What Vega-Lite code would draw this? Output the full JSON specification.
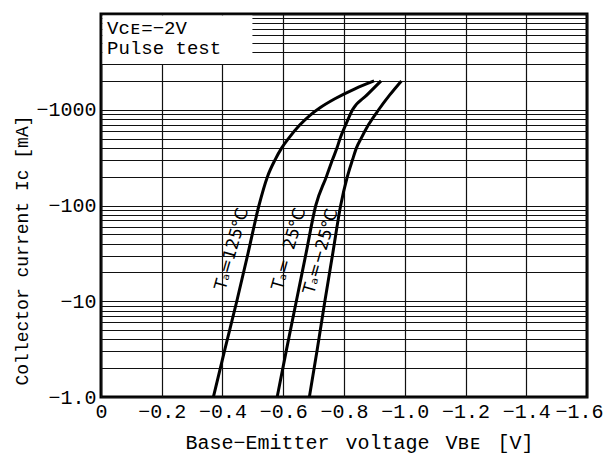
{
  "$schema": "https://vega.github.io/schema/vega-lite/v6.json",
  "width": 486,
  "height": 383,
  "autosize": {"type": "none"},
  "padding": {"left": 101, "top": 14, "right": 17, "bottom": 59},
  "background": "white",
  "config": {
    "view": {"stroke": "black", "strokeWidth": 3},
    "font": "Liberation Mono",
    "axis": {
      "domain": false,
      "ticks": false,
      "grid": true,
      "gridColor": "#111",
      "gridWidth": 1.2,
      "labelFont": "Liberation Mono",
      "labelFontSize": 20,
      "labelColor": "black",
      "titleFont": "Liberation Mono",
      "titleFontSize": 20,
      "titleFontWeight": "normal",
      "titleColor": "black"
    }
  },
  "datasets": {
    "curves": [
      {"series": "125", "V": -0.370, "Ic_abs_mA": 1},
      {"series": "125", "V": -0.408, "Ic_abs_mA": 3.16},
      {"series": "125", "V": -0.447, "Ic_abs_mA": 10},
      {"series": "125", "V": -0.484, "Ic_abs_mA": 31.6},
      {"series": "125", "V": -0.520, "Ic_abs_mA": 100},
      {"series": "125", "V": -0.548, "Ic_abs_mA": 200},
      {"series": "125", "V": -0.573, "Ic_abs_mA": 300},
      {"series": "125", "V": -0.595, "Ic_abs_mA": 400},
      {"series": "125", "V": -0.617, "Ic_abs_mA": 500},
      {"series": "125", "V": -0.655, "Ic_abs_mA": 696},
      {"series": "125", "V": -0.688, "Ic_abs_mA": 875},
      {"series": "125", "V": -0.721, "Ic_abs_mA": 1048},
      {"series": "125", "V": -0.770, "Ic_abs_mA": 1301},
      {"series": "125", "V": -0.836, "Ic_abs_mA": 1655},
      {"series": "125", "V": -0.899, "Ic_abs_mA": 2000},
      {"series": "25", "V": -0.580, "Ic_abs_mA": 1},
      {"series": "25", "V": -0.611, "Ic_abs_mA": 3.16},
      {"series": "25", "V": -0.643, "Ic_abs_mA": 10},
      {"series": "25", "V": -0.675, "Ic_abs_mA": 31.6},
      {"series": "25", "V": -0.707, "Ic_abs_mA": 100},
      {"series": "25", "V": -0.742, "Ic_abs_mA": 200},
      {"series": "25", "V": -0.762, "Ic_abs_mA": 300},
      {"series": "25", "V": -0.777, "Ic_abs_mA": 400},
      {"series": "25", "V": -0.787, "Ic_abs_mA": 500},
      {"series": "25", "V": -0.806, "Ic_abs_mA": 700},
      {"series": "25", "V": -0.828, "Ic_abs_mA": 1000},
      {"series": "25", "V": -0.875, "Ic_abs_mA": 1420},
      {"series": "25", "V": -0.922, "Ic_abs_mA": 2000},
      {"series": "-25", "V": -0.686, "Ic_abs_mA": 1},
      {"series": "-25", "V": -0.712, "Ic_abs_mA": 3.16},
      {"series": "-25", "V": -0.737, "Ic_abs_mA": 10},
      {"series": "-25", "V": -0.763, "Ic_abs_mA": 31.6},
      {"series": "-25", "V": -0.789, "Ic_abs_mA": 100},
      {"series": "-25", "V": -0.811, "Ic_abs_mA": 200},
      {"series": "-25", "V": -0.828, "Ic_abs_mA": 300},
      {"series": "-25", "V": -0.841, "Ic_abs_mA": 400},
      {"series": "-25", "V": -0.856, "Ic_abs_mA": 500},
      {"series": "-25", "V": -0.881, "Ic_abs_mA": 700},
      {"series": "-25", "V": -0.914, "Ic_abs_mA": 1000},
      {"series": "-25", "V": -0.950, "Ic_abs_mA": 1420},
      {"series": "-25", "V": -0.989, "Ic_abs_mA": 2000}
    ],
    "curveLabels": [
      {"label": "T\u2090=125\u00b0C", "V": -0.431, "Ic_abs_mA": 35},
      {"label": "T\u2090=\u200725\u00b0C", "V": -0.619, "Ic_abs_mA": 35},
      {"label": "T\u2090=\u221225\u00b0C", "V": -0.724, "Ic_abs_mA": 33}
    ],
    "noteBox": [
      {"V1": -0.005, "V2": -0.4985, "I1": 3010, "I2": 9650}
    ],
    "note": [
      {"text": "V\u1d04\u1d07=\u22122V", "V": -0.02, "Ic_abs_mA": 6200},
      {"text": "Pulse\u00a0test", "V": -0.02, "Ic_abs_mA": 3850}
    ]
  },
  "layer": [
    {
      "data": {"name": "noteBox"},
      "mark": {"type": "rect", "fill": "white", "stroke": null},
      "encoding": {
        "x": {"field": "V1", "type": "quantitative", "scale": {"domain": [0, -1.6], "nice": false, "zero": false},
          "axis": {
            "values": [0, -0.1, -0.2, -0.3, -0.4, -0.5, -0.6, -0.7, -0.8, -0.9, -1.0, -1.1, -1.2, -1.3, -1.4, -1.5, -1.6],
            "labelExpr": "round(datum.value*10) % 2 == 0 ? (datum.value == 0 ? '0' : format(datum.value, '.1f')) : ''",
            "labelPadding": 4,
            "labelFlush": false,
            "labelOffset": {"condition": {"test": "datum.value < -1.55", "value": -8}, "value": 0},
            "title": "Base\u2212Emitter\u00a0\u2009voltage\u00a0\u2009V\u0299\u1d07\u00a0\u2009[V]",
            "titleX": 258,
            "titlePadding": 11
          }},
        "x2": {"field": "V2"},
        "y": {"field": "I1", "type": "quantitative", "scale": {"type": "log", "domain": [1, 10000], "nice": false},
          "axis": {
            "values": [1, 2, 3, 4, 5, 6, 7, 8, 9, 10, 20, 30, 40, 50, 60, 70, 80, 90, 100, 200, 300, 400, 500, 600, 700, 800, 900, 1000, 2000, 3000, 4000, 5000, 6000, 7000, 8000, 9000, 10000],
            "labelExpr": "datum.value == 1 ? '\u22121.0' : (datum.value == 10 || datum.value == 100 || datum.value == 1000) ? '\u2212' + datum.value : ''",
            "labelPadding": 5,
            "labelFlush": false,
            "labelBaseline": "middle",
            "title": "Collector current Ic [mA]",
            "titleFontSize": 18,
            "titleAngle": -90,
            "titleAlign": "center",
            "titleBaseline": "middle",
            "titleX": -79,
            "titleY": 236
          }},
        "y2": {"field": "I2"}
      }
    },
    {
      "data": {"name": "curves"},
      "mark": {"type": "line", "color": "black", "strokeWidth": 3, "interpolate": "monotone"},
      "encoding": {
        "x": {"field": "V", "type": "quantitative"},
        "y": {"field": "Ic_abs_mA", "type": "quantitative"},
        "detail": {"field": "series"},
        "order": {"field": "V", "sort": "descending"}
      }
    },
    {
      "data": {"name": "curveLabels"},
      "mark": {"type": "text", "font": "DejaVu Sans", "fontSize": 17, "angle": -74, "align": "center", "baseline": "middle", "color": "black"},
      "encoding": {
        "x": {"field": "V", "type": "quantitative"},
        "y": {"field": "Ic_abs_mA", "type": "quantitative"},
        "text": {"field": "label"}
      }
    },
    {
      "data": {"name": "note"},
      "mark": {"type": "text", "font": "Liberation Mono", "fontSize": 19, "align": "left", "baseline": "alphabetic", "color": "black"},
      "encoding": {
        "x": {"field": "V", "type": "quantitative"},
        "y": {"field": "Ic_abs_mA", "type": "quantitative"},
        "text": {"field": "text"}
      }
    }
  ]
}
